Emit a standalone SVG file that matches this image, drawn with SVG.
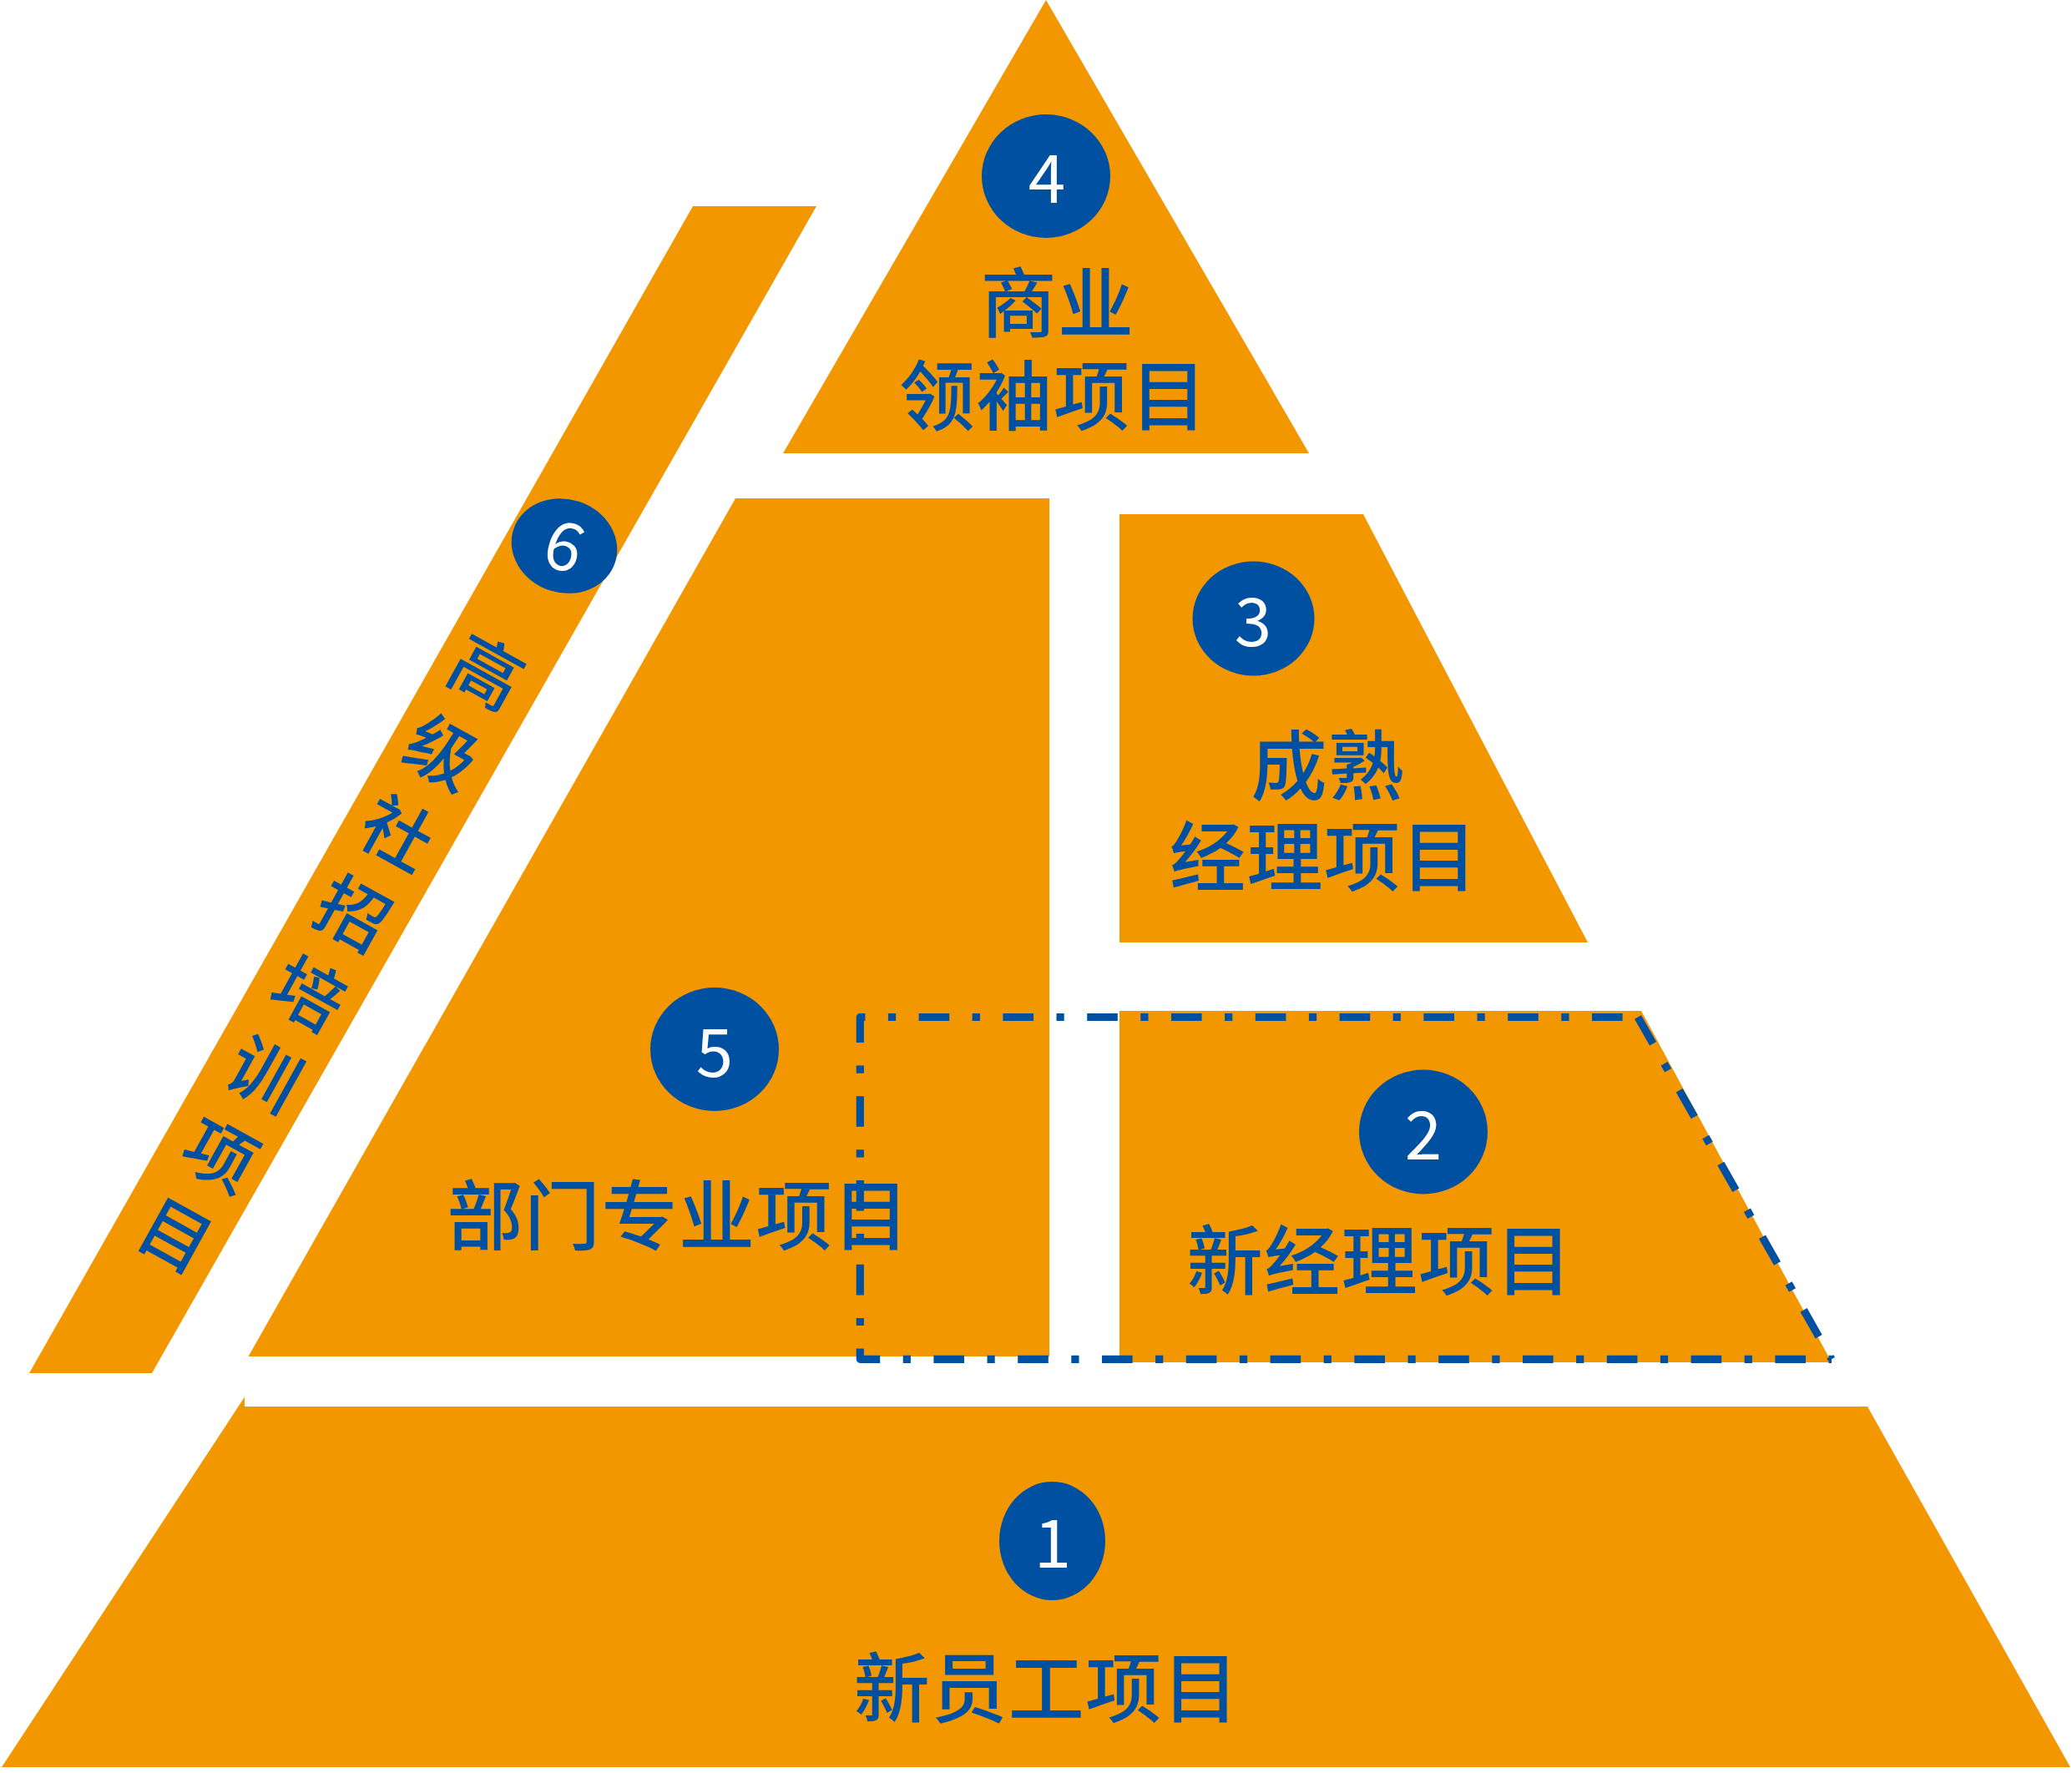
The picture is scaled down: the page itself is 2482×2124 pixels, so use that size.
<svg xmlns="http://www.w3.org/2000/svg" width="2482" height="2124" viewBox="0 0 2482 2124">
<style>
.tier{fill:#F29700;stroke:none}
.badge{fill:#0050A2}
.num{fill:#FFFFFF;font-family:"Noto Sans CJK SC","Noto Sans",sans-serif;font-size:80px;text-anchor:middle}
.lbl{fill:#0050A2;font-family:"Noto Sans CJK SC","Noto Sans CJK TC",sans-serif;font-size:91px;font-weight:500;letter-spacing:1.5px;text-anchor:middle}
.strip{fill:#0050A2;font-family:"Noto Sans CJK SC","Noto Sans CJK TC",sans-serif;font-size:85px;font-weight:500}
.dash{fill:none;stroke:#0050A2;stroke-width:9.2;stroke-dasharray:36.6 27.5 9.2 27.5;stroke-linecap:butt;stroke-linejoin:round}
</style>
<rect width="2482" height="2124" fill="#FFFFFF"/>

<g id="node-4">
<polygon class="tier" points="1253,0 1568,543 938,543"/>
<ellipse class="badge" cx="1253" cy="211" rx="77" ry="74"/>
<text class="num" x="1254" y="243">4</text>
<text class="lbl"><tspan x="1267" y="397">商业</tspan><tspan x="1262" y="508">领袖项目</tspan></text>
</g>

<g id="node-6">
<polygon class="tier" points="830,247 978,247 182,1645 35,1645"/>
<g transform="rotate(18 676 654)">
<ellipse class="badge" cx="676" cy="654" rx="64" ry="56"/>
<text class="num" x="676" y="683">6</text>
</g>
<text class="strip" x="530.2 477 423.8 370.6 317.4 264.2 211 157.8" y="812.2 908.6 1005 1101.4 1197.8 1294.2 1390.6 1487" rotate="29 29 29 29 29 29 29 29">高级社招培训项目</text>
</g>

<g id="node-5">
<polygon class="tier" points="881,597 1257,597 1257,1625 297.5,1625"/>
<ellipse class="badge" cx="856" cy="1257" rx="77" ry="74"/>
<text class="num" x="856" y="1290">5</text>
</g>

<g id="node-3">
<polygon class="tier" points="1341,616 1633,616 1902,1129 1341,1129"/>
<ellipse class="badge" cx="1501.5" cy="741" rx="73" ry="68.5"/>
<text class="num" x="1501" y="774">3</text>
<text class="lbl"><tspan x="1591" y="951">成熟</tspan><tspan x="1586" y="1060">经理项目</tspan></text>
</g>

<g id="node-2">
<polygon class="tier" points="1341,1211 1966,1211 2194,1632 1341,1632"/>
<ellipse class="badge" cx="1705" cy="1356" rx="77" ry="74.5"/>
<text class="num" x="1705" y="1389">2</text>
</g>

<g id="node-1">
<polygon class="tier" points="2,2117 293,1673.5 293,1685 2237,1685 2480,2117"/>
<ellipse class="badge" cx="1260.5" cy="1846" rx="63.5" ry="71"/>
<text class="num" x="1261" y="1878">1</text>
<text class="lbl" x="1254" y="2056">新员工项目</text>
</g>

<g id="connectors">
<path class="dash" d="M2194,1628.3 H1030.3 V1218.5 H1962" stroke-dashoffset="69.8"/>
<path class="dash" d="M1962,1218.5 L2194,1628.3"/>
</g>

<g id="labels-over">
<text class="lbl" x="813" y="1490">部门专业项目</text>
<text class="lbl" x="1653" y="1544">新经理项目</text>
</g>
</svg>
